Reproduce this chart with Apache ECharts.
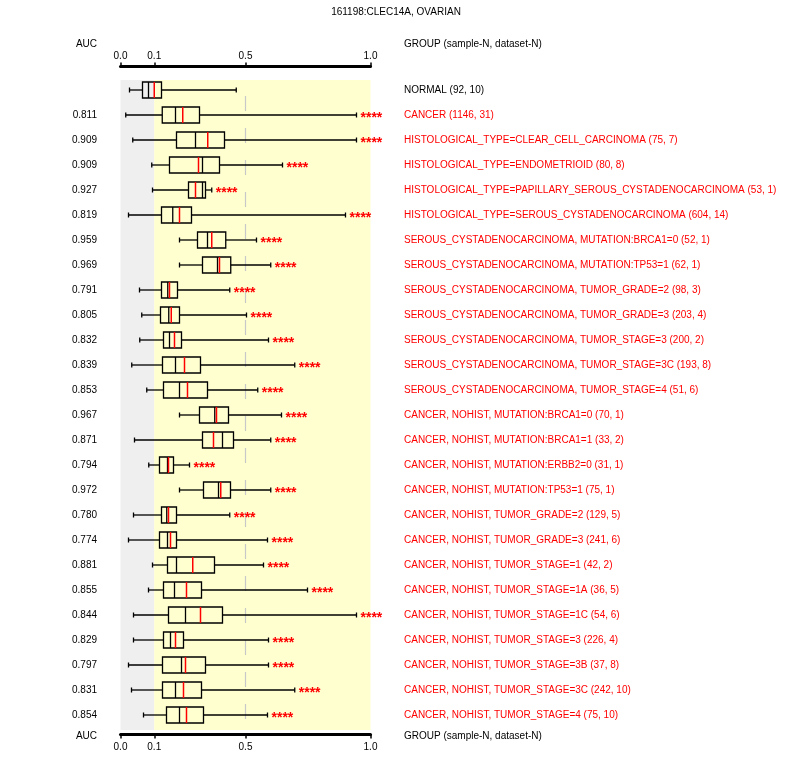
<!DOCTYPE html>
<html>
<head>
<meta charset="utf-8">
<script src="https://cdn.jsdelivr.net/npm/echarts@6/dist/echarts.min.js"></script>
<style>
html,body{margin:0;padding:0;background:#fff;}
#chart{width:792px;height:780px;}
</style>
</head>
<body>
<div id="chart"></div>
<script>
const groups = [
  'NORMAL (92, 10)',
  'CANCER (1146, 31)',
  'HISTOLOGICAL_TYPE=CLEAR_CELL_CARCINOMA (75, 7)',
  'HISTOLOGICAL_TYPE=ENDOMETRIOID (80, 8)',
  'HISTOLOGICAL_TYPE=PAPILLARY_SEROUS_CYSTADENOCARCINOMA (53, 1)',
  'HISTOLOGICAL_TYPE=SEROUS_CYSTADENOCARCINOMA (604, 14)',
  'SEROUS_CYSTADENOCARCINOMA, MUTATION:BRCA1=0 (52, 1)',
  'SEROUS_CYSTADENOCARCINOMA, MUTATION:TP53=1 (62, 1)',
  'SEROUS_CYSTADENOCARCINOMA, TUMOR_GRADE=2 (98, 3)',
  'SEROUS_CYSTADENOCARCINOMA, TUMOR_GRADE=3 (203, 4)',
  'SEROUS_CYSTADENOCARCINOMA, TUMOR_STAGE=3 (200, 2)',
  'SEROUS_CYSTADENOCARCINOMA, TUMOR_STAGE=3C (193, 8)',
  'SEROUS_CYSTADENOCARCINOMA, TUMOR_STAGE=4 (51, 6)',
  'CANCER, NOHIST, MUTATION:BRCA1=0 (70, 1)',
  'CANCER, NOHIST, MUTATION:BRCA1=1 (33, 2)',
  'CANCER, NOHIST, MUTATION:ERBB2=0 (31, 1)',
  'CANCER, NOHIST, MUTATION:TP53=1 (75, 1)',
  'CANCER, NOHIST, TUMOR_GRADE=2 (129, 5)',
  'CANCER, NOHIST, TUMOR_GRADE=3 (241, 6)',
  'CANCER, NOHIST, TUMOR_STAGE=1 (42, 2)',
  'CANCER, NOHIST, TUMOR_STAGE=1A (36, 5)',
  'CANCER, NOHIST, TUMOR_STAGE=1C (54, 6)',
  'CANCER, NOHIST, TUMOR_STAGE=3 (226, 4)',
  'CANCER, NOHIST, TUMOR_STAGE=3B (37, 8)',
  'CANCER, NOHIST, TUMOR_STAGE=3C (242, 10)',
  'CANCER, NOHIST, TUMOR_STAGE=4 (75, 10)'
];
const auc = ['', '0.811','0.909','0.909','0.927','0.819','0.959','0.969','0.791','0.805','0.832','0.839','0.853',
  '0.967','0.871','0.794','0.972','0.780','0.774','0.881','0.855','0.844','0.829','0.797','0.831','0.854'];
const stars = ['', '****','****','****','****','****','****','****','****','****','****','****','****',
  '****','****','****','****','****','****','****','****','****','****','****','****','****'];
const whiskerLow = [0.036,0.021,0.049,0.125,0.128,0.032,0.236,0.236,0.076,0.085,0.077,0.045,0.105,
  0.236,0.056,0.113,0.236,0.052,0.032,0.128,0.112,0.052,0.052,0.032,0.044,0.092];
const q1 = [0.088,0.167,0.224,0.196,0.272,0.164,0.308,0.328,0.164,0.160,0.172,0.168,0.172,
  0.316,0.328,0.156,0.332,0.164,0.156,0.188,0.172,0.192,0.172,0.168,0.168,0.184];
const median = [0.112,0.220,0.300,0.328,0.328,0.209,0.348,0.388,0.189,0.193,0.196,0.220,0.236,
  0.377,0.408,0.188,0.392,0.185,0.188,0.224,0.216,0.260,0.200,0.244,0.220,0.236];
const mean = [0.135,0.249,0.349,0.312,0.300,0.236,0.365,0.396,0.196,0.203,0.216,0.256,0.268,
  0.384,0.372,0.192,0.401,0.192,0.200,0.289,0.264,0.320,0.220,0.260,0.252,0.264];
const q3 = [0.164,0.316,0.416,0.396,0.340,0.284,0.421,0.441,0.228,0.236,0.244,0.320,0.348,
  0.432,0.452,0.212,0.440,0.224,0.224,0.376,0.324,0.408,0.252,0.340,0.324,0.332];
const whiskerHigh = [0.463,0.944,0.944,0.648,0.365,0.900,0.544,0.601,0.437,0.504,0.592,0.697,0.549,
  0.644,0.601,0.276,0.601,0.437,0.588,0.572,0.748,0.944,0.592,0.592,0.697,0.588];
const normalRef = 0.135;          // reference level (normal group), labelled "0.1"
const tickValues = [0, normalRef, 0.5, 1.0];
const tickLabels = ['0.0', '0.1', '0.5', '1.0'];
const dashValue = 0.5;

const FONT = 'Liberation Sans, Arial, sans-serif';
const RED = '#ff0000';
const cats = groups.map((g, i) => String(i));
const rows = groups.map((g, i) => [i, whiskerLow[i], q1[i], median[i], mean[i], q3[i], whiskerHigh[i]]);

function tickFmt(v) {
  for (let k = 0; k < tickValues.length; k++) {
    if (Math.abs(v - tickValues[k]) < 1e-9) return tickLabels[k];
  }
  return '';
}

function renderBg(params, api) {
  const i = api.value(0);
  const p0 = api.coord([0, i]);
  const pr = api.coord([normalRef, i]);
  const p1 = api.coord([1, i]);
  const bw = api.size([0, 1])[1];
  const top = p0[1] - bw * 0.4;
  return {
    type: 'group',
    children: [
      { type: 'rect', shape: { x: p0[0], y: top, width: pr[0] - p0[0], height: bw },
        style: { fill: '#efefef' } },
      { type: 'rect', shape: { x: pr[0], y: top, width: p1[0] - pr[0], height: bw },
        style: { fill: '#ffffd0' } }
    ]
  };
}

function renderBox(params, api) {
  const i = api.value(0);
  const lo = api.coord([api.value(1), i]);
  const a = api.coord([api.value(2), i]);
  const m = api.coord([api.value(3), i]);
  const mu = api.coord([api.value(4), i]);
  const b = api.coord([api.value(5), i]);
  const hi = api.coord([api.value(6), i]);
  const d = api.coord([dashValue, i]);
  const bw = api.size([0, 1])[1];
  const c = lo[1];
  const H = 8, cap = 2.5;
  const ls = { stroke: '#000', lineWidth: 1.3 };
  const top = c - bw * 0.4;
  const children = [
    { type: 'line', shape: { x1: d[0], y1: top, x2: d[0], y2: top + bw },
      style: { stroke: '#c8c8c8', lineWidth: 1.2, lineDash: [15, 17], lineDashOffset: (16 + 25 * i) % 32 } },
    { type: 'line', shape: { x1: lo[0], y1: c, x2: a[0], y2: c }, style: ls },
    { type: 'line', shape: { x1: b[0], y1: c, x2: hi[0], y2: c }, style: ls },
    { type: 'line', shape: { x1: lo[0], y1: c - cap, x2: lo[0], y2: c + cap }, style: ls },
    { type: 'line', shape: { x1: hi[0], y1: c - cap, x2: hi[0], y2: c + cap }, style: ls },
    { type: 'rect', shape: { x: a[0], y: c - H, width: b[0] - a[0], height: 2 * H },
      style: { fill: 'none', stroke: '#000', lineWidth: 1.3 } },
    { type: 'line', shape: { x1: m[0], y1: c - H, x2: m[0], y2: c + H }, style: ls },
    { type: 'line', shape: { x1: mu[0], y1: c - H, x2: mu[0], y2: c + H }, style: { stroke: RED, lineWidth: 1.5 } }
  ];
  if (stars[i]) {
    children.push({ type: 'text', x: hi[0] + 4, y: c + 3,
      style: { text: stars[i], fill: RED, fontSize: 14, fontWeight: 'bold', fontFamily: FONT, align: 'left', verticalAlign: 'middle' } });
  }
  return { type: 'group', children };
}

const chart = echarts.init(document.getElementById('chart'), null, { renderer: 'canvas' });
const axisCommon = {
  type: 'value', min: 0, max: 1,
  splitLine: { show: false },
  axisLine: { show: true, onZero: false, lineStyle: { color: '#000', width: 3 } },
  axisTick: { show: true, customValues: tickValues, length: 4, lineStyle: { color: '#000', width: 1.5 } },
  axisLabel: { customValues: tickValues, formatter: tickFmt, fontSize: 10, fontFamily: FONT, color: '#000' }
};
chart.setOption({
  animation: false,
  backgroundColor: '#fff',
  grid: { left: 120.5, right: 421.5, top: 77.5, bottom: 52.5, containLabel: false, outerBoundsMode: 'none' },
  xAxis: [
    Object.assign({}, axisCommon, { position: 'top', offset: 11,
      axisLabel: Object.assign({}, axisCommon.axisLabel, { margin: 5 }) }),
    Object.assign({}, axisCommon, { position: 'bottom', offset: 7,
      axisLabel: Object.assign({}, axisCommon.axisLabel, { margin: 8 }) })
  ],
  yAxis: [
    { type: 'category', data: cats, inverse: true, position: 'left',
      axisLine: { show: false }, axisTick: { show: false }, splitLine: { show: false },
      axisLabel: { interval: 0, margin: 23.5, fontSize: 10, fontFamily: FONT, color: '#000',
        formatter: (v, idx) => auc[Number(v)] } },
    { type: 'category', data: cats, inverse: true, position: 'right',
      axisLine: { show: false }, axisTick: { show: false }, splitLine: { show: false },
      axisLabel: { interval: 0, margin: 33.5, fontSize: 10, fontFamily: FONT, align: 'left',
        formatter: (v) => groups[Number(v)],
        color: (v, idx) => (Number(v) === 0 || idx === 0) ? '#000' : RED } }
  ],
  graphic: [
    { type: 'text', x: 396, y: 12, style: { text: '161198:CLEC14A, OVARIAN', fontSize: 10, fontFamily: FONT, fill: '#000', align: 'center', verticalAlign: 'middle' } },
    { type: 'text', x: 97, y: 44, style: { text: 'AUC', fontSize: 10, fontFamily: FONT, fill: '#000', align: 'right', verticalAlign: 'middle' } },
    { type: 'text', x: 404, y: 44, style: { text: 'GROUP (sample-N, dataset-N)', fontSize: 10, fontFamily: FONT, fill: '#000', align: 'left', verticalAlign: 'middle' } },
    { type: 'text', x: 97, y: 736, style: { text: 'AUC', fontSize: 10, fontFamily: FONT, fill: '#000', align: 'right', verticalAlign: 'middle' } },
    { type: 'text', x: 404, y: 736, style: { text: 'GROUP (sample-N, dataset-N)', fontSize: 10, fontFamily: FONT, fill: '#000', align: 'left', verticalAlign: 'middle' } }
  ],
  series: [
    { type: 'custom', name: 'background', xAxisIndex: 0, yAxisIndex: 0, z: 1, silent: true,
      renderItem: renderBg, encode: { y: 0, x: [1, 6] }, data: rows },
    { type: 'custom', name: 'boxes', xAxisIndex: 0, yAxisIndex: 0, z: 2, silent: true,
      renderItem: renderBox, encode: { y: 0, x: [1, 2, 3, 4, 5, 6] }, data: rows }
  ]
});
</script>
</body>
</html>
